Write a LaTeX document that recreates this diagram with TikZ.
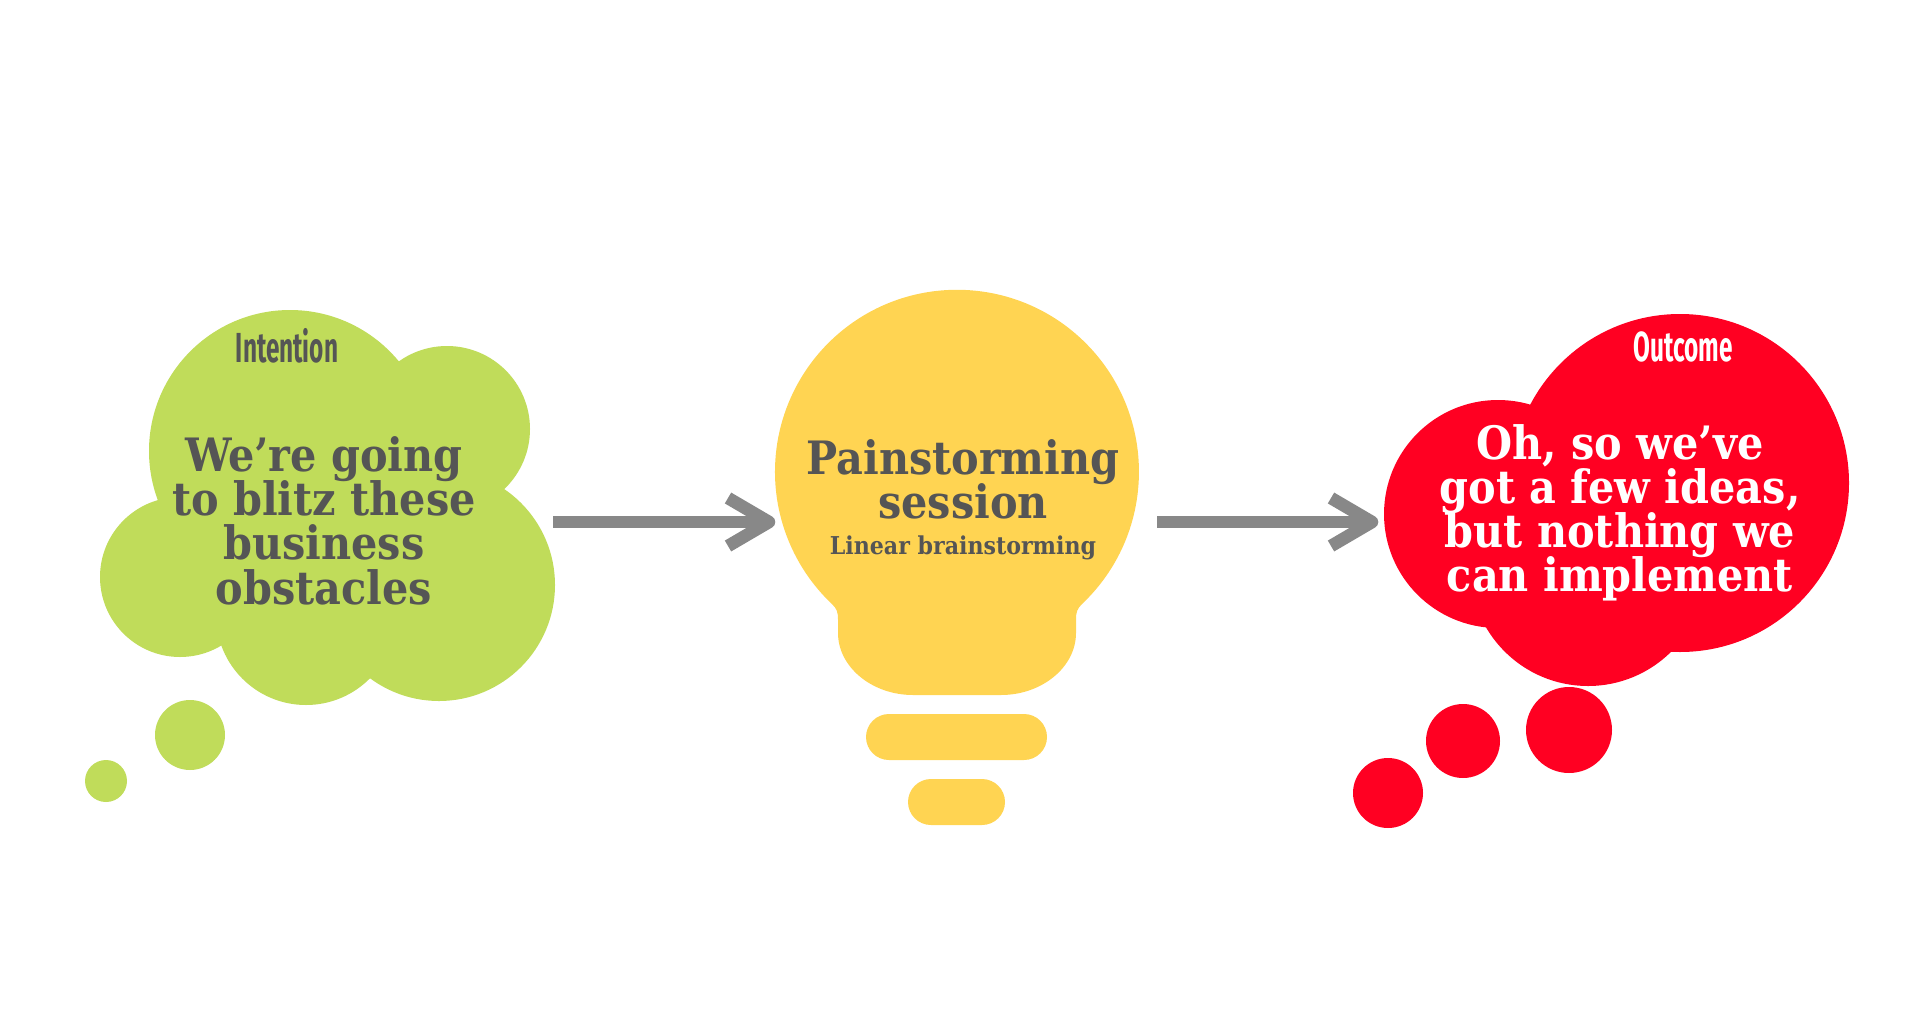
\documentclass[tikz,border=0pt]{standalone}
\usepackage{fontspec}
\usepackage{graphicx}
\setmainfont{DejaVu Serif Condensed}
\newfontfamily\headfont{Fira Sans}
\definecolor{cloudgreen}{HTML}{C0DC5A}
\definecolor{cloudred}{HTML}{FF0022}
\definecolor{bulbyellow}{HTML}{FFD452}
\definecolor{arrowgray}{HTML}{888888}
\definecolor{textgray}{HTML}{555555}
\tikzset{
  x=0.5pt, y=-0.5pt,
  body/.style={font=\fontsize{23}{23}\selectfont\bfseries, inner sep=0pt, anchor=base},
  small/.style={font=\fontsize{12.3}{12.3}\selectfont\bfseries, inner sep=0pt, anchor=base},
  head/.style={font=\headfont\bfseries\fontsize{21}{21}\selectfont, inner sep=0pt, anchor=base},
  arrowline/.style={draw=arrowgray, line width=6.3pt, line cap=butt},
  chev/.style={arrowline, line join=round},
}
\newcommand{\cond}[1]{\scalebox{0.58}[1]{#1}}
\begin{document}
\begin{tikzpicture}
\useasboundingbox (0,0) rectangle (1916,1028);
% ---------- green thought cloud ----------
\begin{scope}[fill=cloudgreen]
  \fill (290,451) circle[radius=141];
  \fill (447,429) circle[radius=83];
  \fill (180,577) circle[radius=80];
  \fill (306,615) circle[radius=90];
  \fill (439,585) circle[radius=116];
  \fill (290,451) -- (447,429) -- (439,585) -- (306,615) -- (180,577) -- cycle;
  \fill (190,735) circle[radius=35];
  \fill (106,781) circle[radius=21];
\end{scope}
\node[head, text=textgray] (intention) at (287,362) {\cond{Intention}};
\node[body, text=textgray] (g1) at (324,471) {We’re going};
\node[body, text=textgray] (g2) at (324,515) {to blitz these};
\node[body, text=textgray] (g3) at (324,559) {business};
\node[body, text=textgray] (g4) at (324,604) {obstacles};
% ---------- light bulb ----------
\fill[bulbyellow] (1082,604) arc[start angle=46.6, end angle=-226.6, radius=182]
  .. controls (837,609) and (838,612) .. (838,620)
  -- (838,633)
  .. controls (838,667) and (872,695) .. (913,695)
  -- (1001,695)
  .. controls (1042,695) and (1076,667) .. (1076,633)
  -- (1076,620)
  .. controls (1076,612) and (1077,609) .. (1082,604) -- cycle;
\fill[bulbyellow, rounded corners=11.5pt] (866,714) rectangle (1047,760);
\fill[bulbyellow, rounded corners=11.5pt] (908,779) rectangle (1005,825);
\node[body, text=textgray] (b1) at (963,474) {Painstorming};
\node[body, text=textgray] (b2) at (963,518) {session};
\node[small, text=textgray] (b3) at (963,554) {Linear brainstorming};
% ---------- red thought cloud ----------
\begin{scope}[fill=cloudred]
  \fill (1680,483) circle[radius=169];
  \fill (1498,514) circle[radius=114];
  \fill (1588,568) circle[radius=118];
  \fill (1680,483) -- (1498,514) -- (1588,568) -- cycle;
  \fill (1569,730) circle[radius=43];
  \fill (1463,741) circle[radius=37];
  \fill (1388,793) circle[radius=35];
\end{scope}
\node[head, text=white] (outcome) at (1683,361) {\cond{Outcome}};
\node[body, text=white] (r1) at (1620,459) {Oh, so we’ve};
\node[body, text=white] (r2) at (1620,503) {got a few ideas,};
\node[body, text=white] (r3) at (1620,547) {but nothing we};
\node[body, text=white] (r4) at (1620,591) {can implement};
% ---------- arrows ----------
\coordinate (s1) at (553,522);
\coordinate (t1) at (769,522);
\coordinate (s2) at (1157,522);
\coordinate (t2) at (1372,522);
\draw[arrowline] (s1) -- (t1);
\draw[chev] ([shift={(-41,-24)}]t1) -- (t1) -- ([shift={(-41,24)}]t1);
\draw[arrowline] (s2) -- (t2);
\draw[chev] ([shift={(-41,-24)}]t2) -- (t2) -- ([shift={(-41,24)}]t2);
\end{tikzpicture}
\end{document}
